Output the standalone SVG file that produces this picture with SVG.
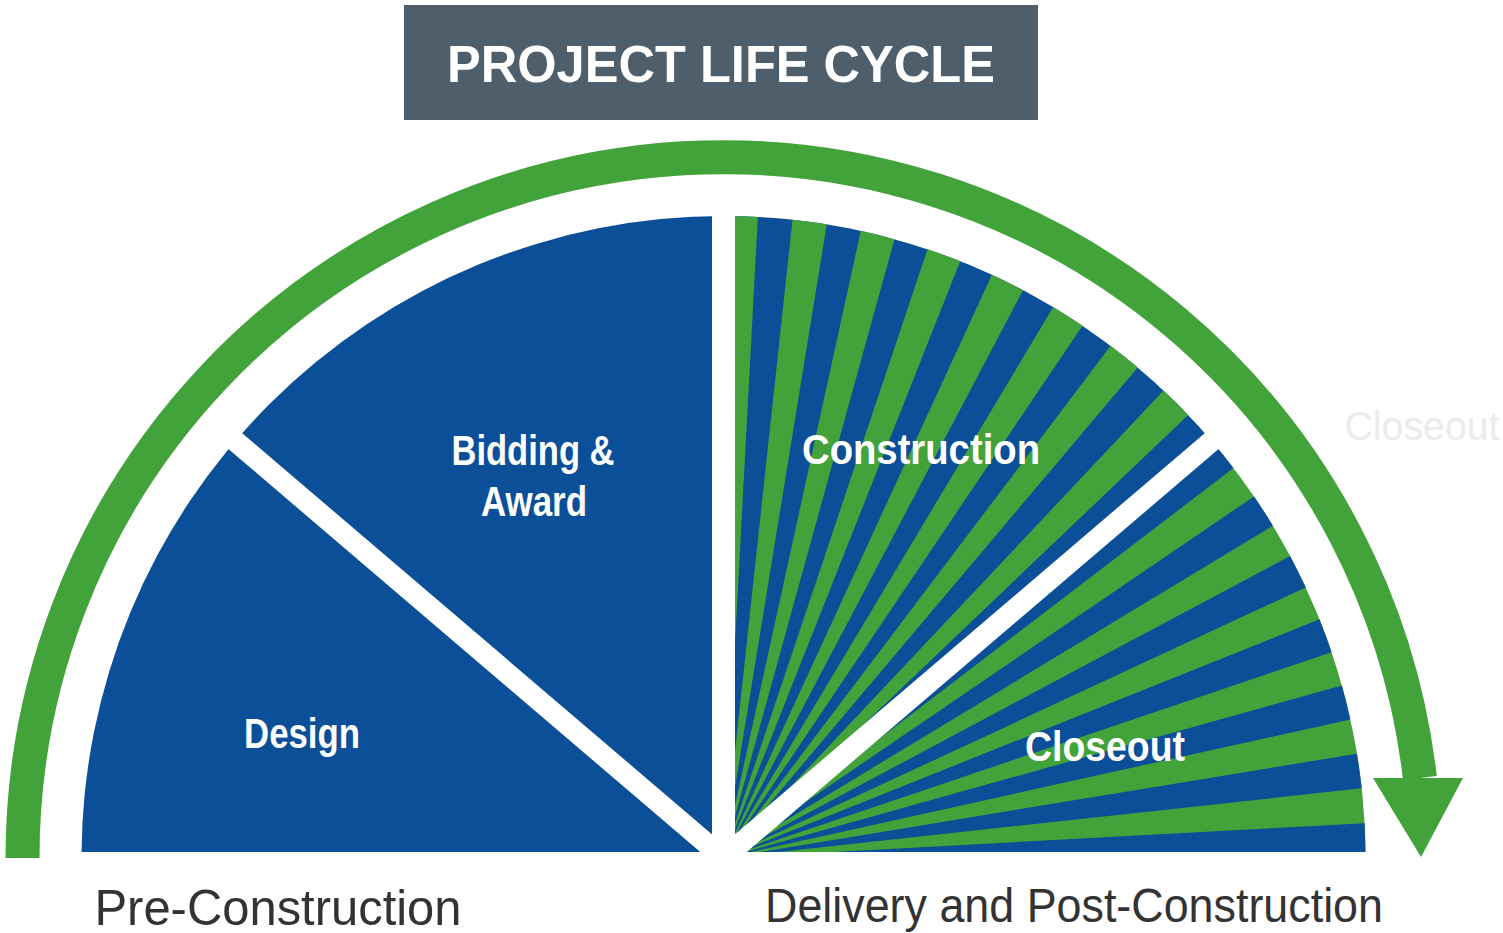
<svg xmlns="http://www.w3.org/2000/svg" width="1503" height="933" viewBox="0 0 1503 933">
<style>
.lbl{font-family:"Liberation Sans",Arial,sans-serif;font-weight:bold;fill:#ffffff;}
.cap{font-family:"Liberation Sans",Arial,sans-serif;fill:#333333;}
.gap{stroke:#ffffff;fill:none;}
</style>
<defs>
<clipPath id="lq"><rect x="0" y="0" width="723.5" height="852"/></clipPath>
<clipPath id="cq"><polygon points="723.5,858 723.5,150 1400,150 1331.8,338.4"/></clipPath>
<clipPath id="oq"><polygon points="723.5,852 1331.8,338.4 1500,338 1500,852"/></clipPath>
</defs>
<rect width="1503" height="933" fill="#ffffff"/>
<g id="title">
<rect x="404" y="5" width="634" height="115" fill="#4f5e6b"/>
<text x="721" y="82" class="lbl" font-size="52" text-anchor="middle" textLength="548" lengthAdjust="spacingAndGlyphs">PROJECT LIFE CYCLE</text>
</g>
<g id="pie">
<g clip-path="url(#lq)"><circle cx="723.5" cy="858" r="642" fill="#0a4f97"/></g>
<g clip-path="url(#cq)">
<circle cx="723.5" cy="858" r="642" fill="#0a4f97"/>
<circle cx="723.5" cy="858" r="321" fill="none" stroke="#43a33b" stroke-width="642" stroke-dasharray="17.31 17.31" transform="rotate(-90 723.5 858)"/>
</g>
<g clip-path="url(#oq)">
<circle cx="723.5" cy="858" r="642" fill="#43a33b"/>
<circle cx="723.5" cy="858" r="321" fill="none" stroke="#0a4f97" stroke-width="642" stroke-dasharray="17.45 17.45" transform="rotate(-40.5 723.5 858)"/>
</g>
<line class="gap" x1="723.5" y1="150" x2="723.5" y2="870" stroke-width="23"/>
<line class="gap" x1="723.5" y1="858" x2="191.2" y2="403.4" stroke-width="21"/>
<line class="gap" x1="723.5" y1="858" x2="1255.8" y2="403.4" stroke-width="21"/>
</g>
<g id="connectors">
<path d="M 22.5 858 A 701 701 0 0 1 1419.9 778" fill="none" stroke="#43a33b" stroke-width="34"/>
<polygon points="1373,778 1463,778 1421,857" fill="#43a33b"/>
</g>
<g id="design"><text x="302" y="748" class="lbl" font-size="42" text-anchor="middle" textLength="116" lengthAdjust="spacingAndGlyphs">Design</text></g>
<g id="bidding">
<text x="533" y="465" class="lbl" font-size="42" text-anchor="middle" textLength="163" lengthAdjust="spacingAndGlyphs">Bidding &amp;</text>
<text x="534" y="516" class="lbl" font-size="42" text-anchor="middle" textLength="106" lengthAdjust="spacingAndGlyphs">Award</text>
</g>
<g id="construction"><text x="921" y="464" class="lbl" font-size="42" text-anchor="middle" textLength="238" lengthAdjust="spacingAndGlyphs">Construction</text></g>
<g id="closeout"><text x="1105" y="761" class="lbl" font-size="42" text-anchor="middle" textLength="160" lengthAdjust="spacingAndGlyphs">Closeout</text></g>
<text x="1422" y="440" font-family="Liberation Sans, Arial, sans-serif" font-size="40" fill="#ebebeb" text-anchor="middle" textLength="155" lengthAdjust="spacingAndGlyphs">Closeout</text>
<g id="pre"><text x="278" y="925" class="cap" font-size="50" text-anchor="middle" textLength="367" lengthAdjust="spacingAndGlyphs">Pre-Construction</text></g>
<g id="post"><text x="1074" y="922" class="cap" font-size="48" text-anchor="middle" textLength="618" lengthAdjust="spacingAndGlyphs">Delivery and Post-Construction</text></g>
</svg>
